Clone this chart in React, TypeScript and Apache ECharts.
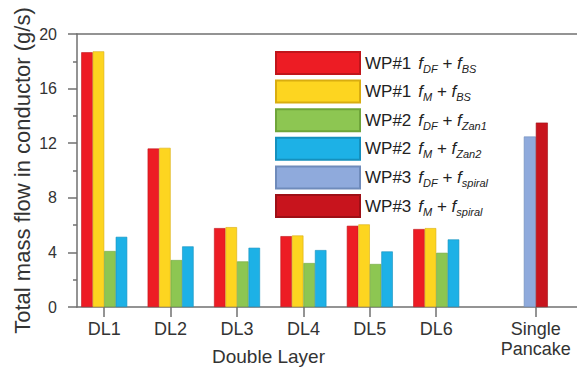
import React, { useEffect, useRef } from "react";
import * as echarts from "echarts";

const categories = ["DL1", "DL2", "DL3", "DL4", "DL5", "DL6"];
const categoryPos = [0, 1, 2, 3, 4, 5];
const pancakeLabel = "Single\nPancake";
const pancakePos = 6.5;

const wp1DF = [18.66, 11.61, 5.78, 5.19, 5.95, 5.71];
const wp1M = [18.73, 11.66, 5.85, 5.24, 6.05, 5.78];
const wp2DF = [4.1, 3.44, 3.34, 3.22, 3.15, 3.97];
const wp2M = [5.14, 4.44, 4.34, 4.17, 4.07, 4.95];
const wp3DF = [12.49];
const wp3M = [13.51];

const legendPrefix = ["WP#1", "WP#1", "WP#2", "WP#2", "WP#3", "WP#3"];
const legendSub1 = ["DF", "M", "DF", "M", "DF", "M"];
const legendSub2 = ["BS", "BS", "Zan1", "Zan2", "spiral", "spiral"];
const colors = ["#ED1C24", "#FDD520", "#8DC652", "#1DB1E6", "#8FAADC", "#C8141D"];
const borders = ["#c0151b", "#d9ad10", "#6fa53a", "#1590bd", "#6f8bbb", "#9e0f16"];

const yTicks = { min: 0, max: 20, interval: 4 };
const FONT = "'Liberation Sans', Arial, sans-serif";

export default function App() {
  const ref = useRef<HTMLDivElement>(null);
  useEffect(() => {
    if (!ref.current) return;
    const chart = echarts.init(ref.current, undefined, { renderer: "svg" });
    const names = legendPrefix.map((p, i) => `${p}  f${legendSub1[i]} + f${legendSub2[i]}`);
    const richMap: Record<string, string> = {};
    names.forEach((n, i) => {
      richMap[n] = `{n|${legendPrefix[i]}}{g| }{f|f}{s|${legendSub1[i]}}{p| + }{f|f}{s|${legendSub2[i]}}`;
    });
    const dlSeries = [wp1DF, wp1M, wp2DF, wp2M].map((vals, i) => ({
      name: names[i],
      type: "bar",
      xAxisIndex: 0,
      barWidth: 11.5,
      barGap: "0%",
      itemStyle: { color: colors[i], borderColor: borders[i], borderWidth: 0.6 },
      data: vals.map((v, k) => [categoryPos[k], v]),
    }));
    const spSeries = [wp3DF, wp3M].map((vals, j) => ({
      name: names[4 + j],
      type: "bar",
      xAxisIndex: 1,
      barWidth: 12,
      barGap: "0%",
      itemStyle: { color: colors[4 + j], borderColor: borders[4 + j], borderWidth: 0.6 },
      data: vals.map((v) => [pancakePos, v]),
    }));
    const labelMap: Record<string, string> = {};
    categoryPos.forEach((p, i) => (labelMap[String(p)] = categories[i]));
    labelMap[String(pancakePos)] = pancakeLabel;
    const tickValues = [...categoryPos, pancakePos];
    const axisColor = "#707070";

    chart.setOption({
      animation: false,
      textStyle: { fontFamily: FONT },
      grid: { left: 77, right: 0, top: 34, bottom: 69, containLabel: false },
      legend: {
        orient: "vertical",
        left: 270,
        top: 46,
        itemWidth: 84,
        itemHeight: 22,
        itemGap: 4.6,
        icon: "rect",
        textStyle: {
          fontFamily: FONT,
          fontSize: 17,
          color: "#222",
          rich: {
            n: { fontSize: 17, color: "#222", lineHeight: 22, fontFamily: FONT },
            g: { fontSize: 17, lineHeight: 22, fontFamily: FONT, width: 7 },
            f: { fontSize: 17, fontStyle: "italic", color: "#222", lineHeight: 22, fontFamily: FONT },
            s: { fontSize: 11, fontStyle: "italic", color: "#222", lineHeight: 22, verticalAlign: "bottom", fontFamily: FONT },
            p: { fontSize: 17, color: "#222", lineHeight: 22, fontFamily: FONT },
          },
        },
        formatter: (name: string) => richMap[name] ?? name,
        data: names,
      },
      xAxis: [
        {
          type: "value",
          min: -0.41,
          max: 7.12,
          position: "bottom",
          splitLine: { show: false },
          axisLine: { show: true, onZero: false, lineStyle: { color: axisColor, width: 1.5 } },
          axisTick: { show: true, customValues: tickValues, length: 10, lineStyle: { color: axisColor, width: 1.5 } },
          axisLabel: {
            customValues: tickValues,
            formatter: (v: number) => labelMap[String(v)] ?? "",
            fontSize: 18,
            color: "#333",
            margin: 12,
            lineHeight: 20,
            fontFamily: FONT,
          },
        },
        {
          type: "value",
          min: -0.41,
          max: 7.12,
          position: "top",
          splitLine: { show: false },
          axisLine: { show: true, onZero: false, lineStyle: { color: axisColor, width: 1.5 } },
          axisTick: { show: false },
          axisLabel: { show: false },
        },
      ],
      yAxis: {
        type: "value",
        min: yTicks.min,
        max: yTicks.max,
        interval: yTicks.interval,
        splitLine: { show: false },
        axisLine: { show: true, onZero: false, lineStyle: { color: axisColor, width: 1.5 } },
        axisTick: { show: true, length: 9, lineStyle: { color: axisColor, width: 1.5 } },
        minorTick: { show: true, splitNumber: 2, length: 4, lineStyle: { color: axisColor, width: 1.5 } },
        axisLabel: { fontSize: 16, color: "#333", margin: 20, fontFamily: FONT },
        name: "Total mass flow in conductor (g/s)",
        nameLocation: "middle",
        nameRotate: 90,
        nameGap: 44,
        nameMoveOverlap: false,
        nameTextStyle: { fontSize: 22, color: "#333", fontFamily: FONT },
      },
      graphic: [
        {
          type: "text",
          left: 212,
          top: 347,
          style: { text: "Double Layer", fontSize: 19, fill: "#333", fontFamily: FONT },
        },
      ],
      series: [...dlSeries, ...spSeries],
    });
    return () => chart.dispose();
  }, []);
  return <div ref={ref} style={{ position: "absolute", left: 0, top: 0, width: 577, height: 376 }} />;
}
